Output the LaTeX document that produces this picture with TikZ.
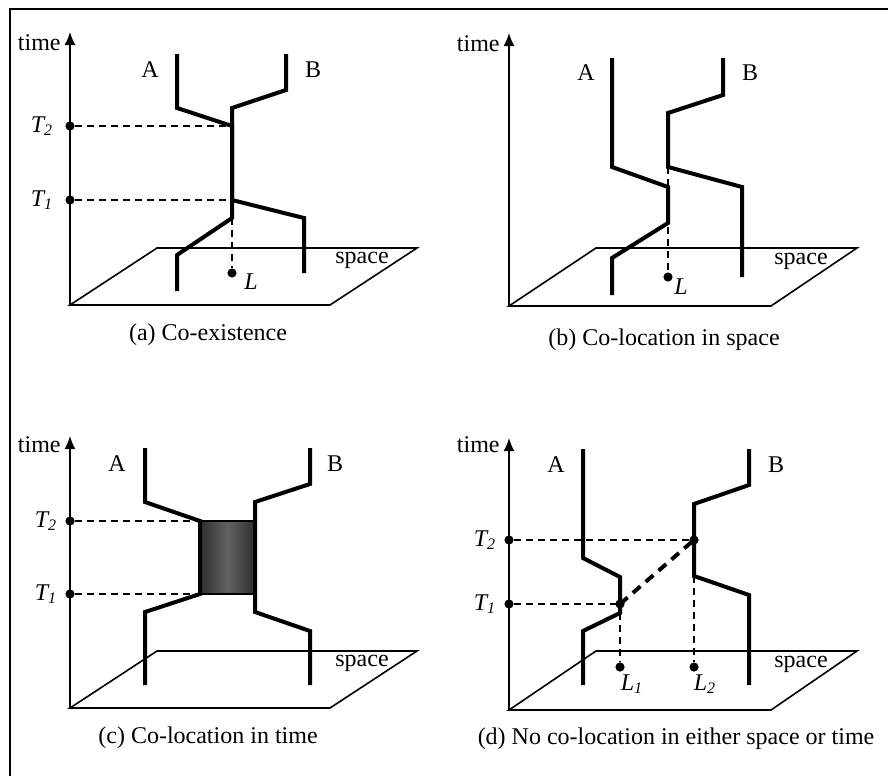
\documentclass[tikz,border=0pt]{standalone}
\usepackage{fontspec}
\setmainfont{Liberation Serif}
\usetikzlibrary{arrows.meta}

\begin{document}
\begin{tikzpicture}[x=.5pt,y=-.5pt,>={Latex[length=6.5pt,width=5.5pt]},
 font=\fontsize{12}{14}\selectfont,
 axis/.style={line width=.8pt},
 world/.style={line width=2pt},
 proj/.style={line width=.7pt,dash pattern=on 3.5pt off 2.5pt},
 link/.style={line width=2pt,dash pattern=on 5pt off 3.5pt},
 dot/.style={fill,circle,inner sep=0pt,minimum size=4.6pt},
 lbl/.style={inner sep=1pt}]
\useasboundingbox (0,0) rectangle (888,776);
\draw[axis] (888,9) -- (10,9) -- (10,776);
% (a) co-existence
\begin{scope}[shift={(70,305)}]
  \draw[axis,->] (0,0) -- (0,-273);
  \draw[axis] (0,0) -- (260,0) -- (347,-57) -- (87,-57) -- cycle;
  \node[lbl,anchor=east] (a-time) at (-7,-262) {time};
  \node[lbl] (a-space) at (292,-45) {space};
  \draw[world] (107,-251) -- (107,-197) -- (162,-179) -- (162,-87) -- (107,-50) -- (107,-14);
  \draw[world] (216,-251) -- (216,-215) -- (162,-197) -- (162,-105) -- (234,-87) -- (234,-32);
  \node[dot] (a-t2) at (0,-179) {};
  \node[dot] (a-t1) at (0,-105) {};
  \node[dot] (a-l) at (162,-32) {};
  \coordinate (a-m2) at (162,-179);
  \coordinate (a-m1) at (162,-105);
  \coordinate (a-foot) at (162,-87);
  \draw[proj] (a-t2) -- (a-m2);
  \draw[proj] (a-t1) -- (a-m1);
  \draw[proj] (a-foot) -- (a-l);
  \node[lbl] (a-t2lbl) at (-28,-179) {\textit{T\textsubscript{2}}};
  \node[lbl] (a-t1lbl) at (-28,-105) {\textit{T\textsubscript{1}}};
  \node[lbl] (a-llbl) at (181,-23) {\textit{L}};
  \node[lbl] (a-a) at (80,-235) {A};
  \node[lbl] (a-b) at (243,-235) {B};
  \node[lbl] (a-cap) at (138,30) {(a) Co-existence};
\end{scope}
% (b) co-location in space
\begin{scope}[shift={(509,306)}]
  \draw[axis,->] (0,0) -- (0,-273);
  \draw[axis] (0,0) -- (262,0) -- (348,-58) -- (87,-58) -- cycle;
  \node[lbl,anchor=east] (b-time) at (-7,-262) {time};
  \node[lbl] (b-space) at (292,-45) {space};
  \draw[world] (103,-248) -- (103,-139) -- (159,-119) -- (159,-83) -- (103,-48) -- (103,-11);
  \draw[world] (214,-248) -- (214,-211) -- (159,-193) -- (159,-139) -- (233,-119) -- (233,-29);
  \node[dot] (b-l) at (159,-29) {};
  \coordinate (b-foot) at (159,-139);
  \draw[proj] (b-foot) -- (b-l);
  \node[lbl] (b-llbl) at (172,-19) {\textit{L}};
  \node[lbl] (b-a) at (77,-233) {A};
  \node[lbl] (b-b) at (241,-233) {B};
  \node[lbl] (b-cap) at (155,34) {(b) Co-location in space};
\end{scope}
% (c) co-location in time
\begin{scope}[shift={(70,708)}]
  \draw[axis,->] (0,0) -- (0,-272);
  \draw[axis] (0,0) -- (260,0) -- (347,-57) -- (87,-57) -- cycle;
  \node[lbl,anchor=east] (c-time) at (-7,-263) {time};
  \node[lbl] (c-space) at (292,-45) {space};
  \shade[left color=black!82,right color=black!82,middle color=black!62] (130,-187) rectangle (185,-114);
  \draw[axis] (130,-187) rectangle (185,-114);
  \draw[world] (75,-260) -- (75,-206) -- (130,-187) -- (130,-114) -- (75,-96) -- (75,-23);
  \draw[world] (240,-260) -- (240,-224) -- (185,-206) -- (185,-96) -- (240,-77) -- (240,-23);
  \node[dot] (c-t2) at (0,-187) {};
  \node[dot] (c-t1) at (0,-114) {};
  \coordinate (c-m2) at (130,-187);
  \coordinate (c-m1) at (130,-114);
  \draw[proj] (c-t2) -- (c-m2);
  \draw[proj] (c-t1) -- (c-m1);
  \node[lbl] (c-t2lbl) at (-24,-187) {\textit{T\textsubscript{2}}};
  \node[lbl] (c-t1lbl) at (-24,-114) {\textit{T\textsubscript{1}}};
  \node[lbl] (c-a) at (47,-244) {A};
  \node[lbl] (c-b) at (265,-244) {B};
  \node[lbl] (c-cap) at (138,30) {(c) Co-location in time};
\end{scope}
% (d) no co-location
\begin{scope}[shift={(509,710)}]
  \draw[axis,->] (0,0) -- (0,-272);
  \draw[axis] (0,0) -- (262,0) -- (348,-59) -- (87,-59) -- cycle;
  \node[lbl,anchor=east] (d-time) at (-7,-265) {time};
  \node[lbl] (d-space) at (292,-46) {space};
  \draw[world] (74,-261) -- (74,-152) -- (111,-133) -- (111,-97) -- (74,-79) -- (74,-25);
  \draw[world] (240,-261) -- (240,-225) -- (185,-206) -- (185,-134) -- (240,-115) -- (240,-25);
  \node[dot] (d-t2) at (0,-170) {};
  \node[dot] (d-t1) at (0,-106) {};
  \node[dot] (d-p2) at (185,-170) {};
  \node[dot] (d-p1) at (111,-106) {};
  \node[dot] (d-l1) at (111,-43) {};
  \node[dot] (d-l2) at (185,-43) {};
  \coordinate (d-foot1) at (111,-97);
  \coordinate (d-foot2) at (185,-134);
  \draw[proj] (d-t2) -- (d-p2.center);
  \draw[proj] (d-t1) -- (d-p1.center);
  \draw[proj] (d-foot1) -- (d-l1);
  \draw[proj] (d-foot2) -- (d-l2);
  \draw[link] (d-p1.center) -- (d-p2.center);
  \node[lbl] (d-t2lbl) at (-24,-170) {\textit{T\textsubscript{2}}};
  \node[lbl] (d-t1lbl) at (-24,-106) {\textit{T\textsubscript{1}}};
  \node[lbl] (d-l1lbl) at (123,-26) {\textit{L\textsubscript{1}}};
  \node[lbl] (d-l2lbl) at (196,-26) {\textit{L\textsubscript{2}}};
  \node[lbl] (d-a) at (47,-245) {A};
  \node[lbl] (d-b) at (267,-245) {B};
  \node[lbl] (d-cap) at (167,29) {(d) No co-location in either space or time};
\end{scope}
\end{tikzpicture}
\end{document}
